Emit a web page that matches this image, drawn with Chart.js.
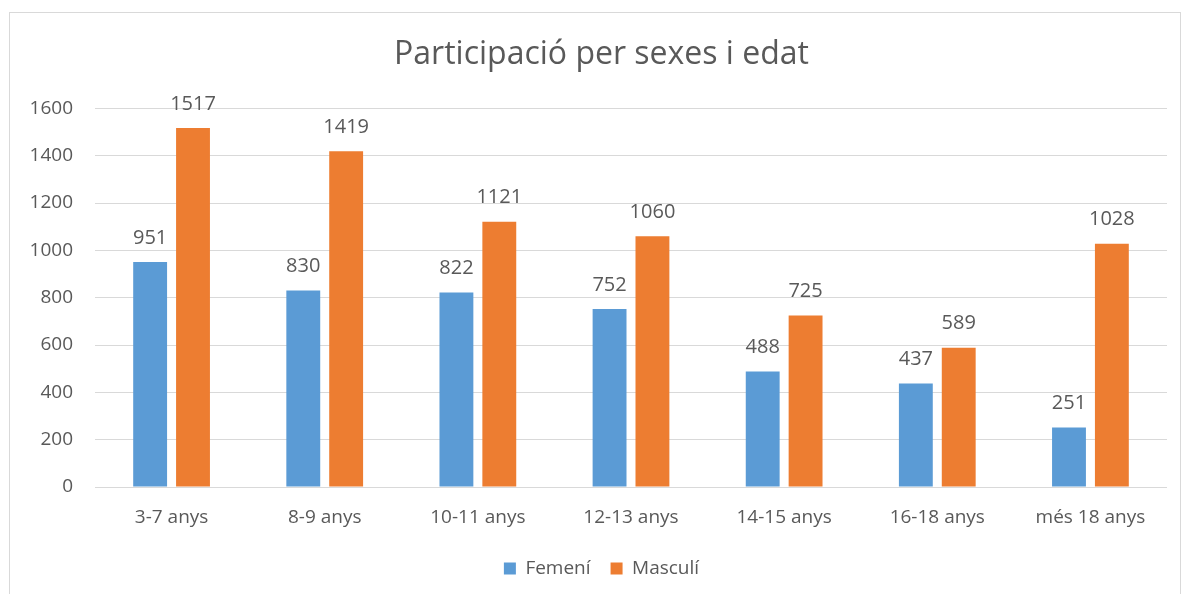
<!DOCTYPE html>
<html>
<head>
<meta charset="utf-8">
<script src="https://cdn.jsdelivr.net/npm/chart.js@4"></script>
<style>
  html, body { margin: 0; padding: 0; background: #fff; }
  #wrap { width: 1185px; height: 594px; position: relative; }
</style>
</head>
<body>
<div id="wrap"><canvas id="chart" width="1185" height="594"></canvas></div>
<script>
const categories = ['3-7 anys', '8-9 anys', '10-11 anys', '12-13 anys', '14-15 anys', '16-18 anys', 'més 18 anys']
const femeni = [951, 830, 822, 752, 488, 437, 251]
const masculi = [1517, 1419, 1121, 1060, 725, 589, 1028]

const textColor = '#595959'
const fontFamily = '"Open Sans", "Liberation Sans", sans-serif'

// draws the value above each bar
const barLabels = {
    id: 'barLabels',
    afterDatasetsDraw(chart) {
        const c = chart.ctx
        c.save()
        c.font = '20px ' + fontFamily
        c.fillStyle = textColor
        c.textAlign = 'center'
        c.textBaseline = 'middle'
        chart.data.datasets.forEach((ds, i) => {
            chart.getDatasetMeta(i).data.forEach((bar, j) => {
                c.fillText(ds.data[j], bar.x, bar.y - 24)
            })
        })
        c.restore()
    },
}

// white background and the thin frame round the chart
const frame = {
    id: 'frame',
    beforeDraw(chart) {
        const c = chart.ctx
        c.save()
        c.fillStyle = '#fff'
        c.fillRect(0, 0, chart.width, chart.height)
        c.strokeStyle = '#D9D9D9'
        c.lineWidth = 1
        c.strokeRect(9.5, 12.5, 1171, 600)
        c.restore()
    },
}

// title and legend sit centred on the frame, not on the canvas
const recentre = {
    id: 'recentre',
    afterLayout(chart) {
        chart.titleBlock.left += 36
        chart.legend.left += 36
    },
}

const data = {
    labels: categories,
    datasets: [
        {
            label: 'Femení',
            data: femeni,
            backgroundColor: '#5B9BD5',
        },
        {
            label: 'Masculí',
            data: masculi,
            backgroundColor: '#ED7D31',
        },
    ],
}

const options = {
    responsive: false,
    animation: false,
    categoryPercentage: 0.56,
    barPercentage: 0.79,
    layout: {
        padding: { left: 0, right: 18, top: 0, bottom: 6 },
    },
    plugins: {
        title: {
            display: true,
            text: 'Participació per sexes i edat',
            color: textColor,
            font: { family: fontFamily, size: 32, weight: 'normal' },
            padding: { top: 36, bottom: 34 },
        },
        legend: {
            position: 'bottom',
            labels: {
                boxWidth: 12,
                boxHeight: 12,
                padding: 20,
                color: textColor,
                font: { family: fontFamily, size: 19 },
            },
        },
        tooltip: { enabled: false },
    },
    scales: {
        x: {
            grid: { display: false, drawTicks: false },
            border: { display: false },
            ticks: {
                color: textColor,
                font: { family: fontFamily, size: 19 },
                padding: 19,
            },
            afterFit(scale) { scale.height = 52 },
        },
        y: {
            min: 0,
            max: 1600,
            grid: { color: '#D9D9D9', drawTicks: false },
            border: { display: false },
            ticks: {
                stepSize: 200,
                color: textColor,
                font: { family: fontFamily, size: 19 },
                padding: 22,
                callback: (v) => String(v),
            },
            afterFit(scale) { scale.width = 95 },
        },
    },
}

new Chart(document.getElementById('chart'), {
    type: 'bar',
    data: data,
    options: options,
    plugins: [frame, barLabels, recentre],
})
</script>
</body>
</html>
